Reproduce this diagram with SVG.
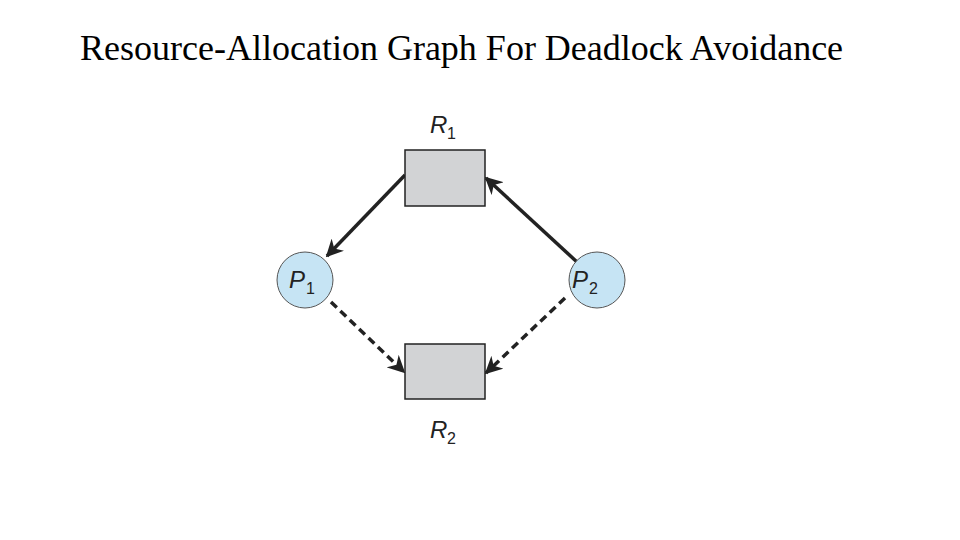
<svg xmlns="http://www.w3.org/2000/svg" width="960" height="540" viewBox="0 0 960 540">
<style>
.res{fill:#d2d3d5;stroke:#222;stroke-width:1.5}
.proc{fill:#c6e4f4;stroke:#555;stroke-width:1}
.lbl{font-family:"Liberation Sans",Arial,sans-serif;font-style:italic;font-size:24px;fill:#222}
.sub{font-family:"Liberation Sans",Arial,sans-serif;font-size:16px;fill:#222}
.e{stroke:#222;stroke-width:3.5;fill:none;marker-end:url(#ah)}
.d{stroke-dasharray:8,5}
</style>
<defs>
<marker id="ah" viewBox="0 0 10 10" refX="9" refY="5" markerWidth="5" markerHeight="5" orient="auto" markerUnits="strokeWidth"><path d="M0,0L10,5L0,10L3,5z" fill="#222"/></marker>
</defs>
<text x="80" y="60" font-family="Liberation Serif,'Times New Roman',serif" font-size="36" fill="#000">Resource-Allocation Graph For Deadlock Avoidance</text>
<g id="edges">
<line class="e" x1="405" y1="175" x2="327" y2="256"/>
<line class="e" x1="577" y1="262" x2="486" y2="178"/>
<line class="e d" x1="331" y1="302" x2="404" y2="372"/>
<line class="e d" x1="565" y1="298" x2="486" y2="373"/>
</g>
<g id="R1"><rect class="res" x="405" y="150" width="80" height="56"/><text class="lbl" x="430" y="133">R</text><text class="sub" x="447" y="139">1</text></g>
<g id="R2"><rect class="res" x="405" y="344" width="80" height="55"/><text class="lbl" x="430" y="438">R</text><text class="sub" x="447" y="444">2</text></g>
<g id="P1"><circle class="proc" cx="305" cy="280" r="28"/><text class="lbl" x="289" y="288">P</text><text class="sub" x="306" y="294">1</text></g>
<g id="P2"><circle class="proc" cx="597" cy="280" r="28"/><text class="lbl" x="572" y="288">P</text><text class="sub" x="589" y="294">2</text></g>
</svg>
